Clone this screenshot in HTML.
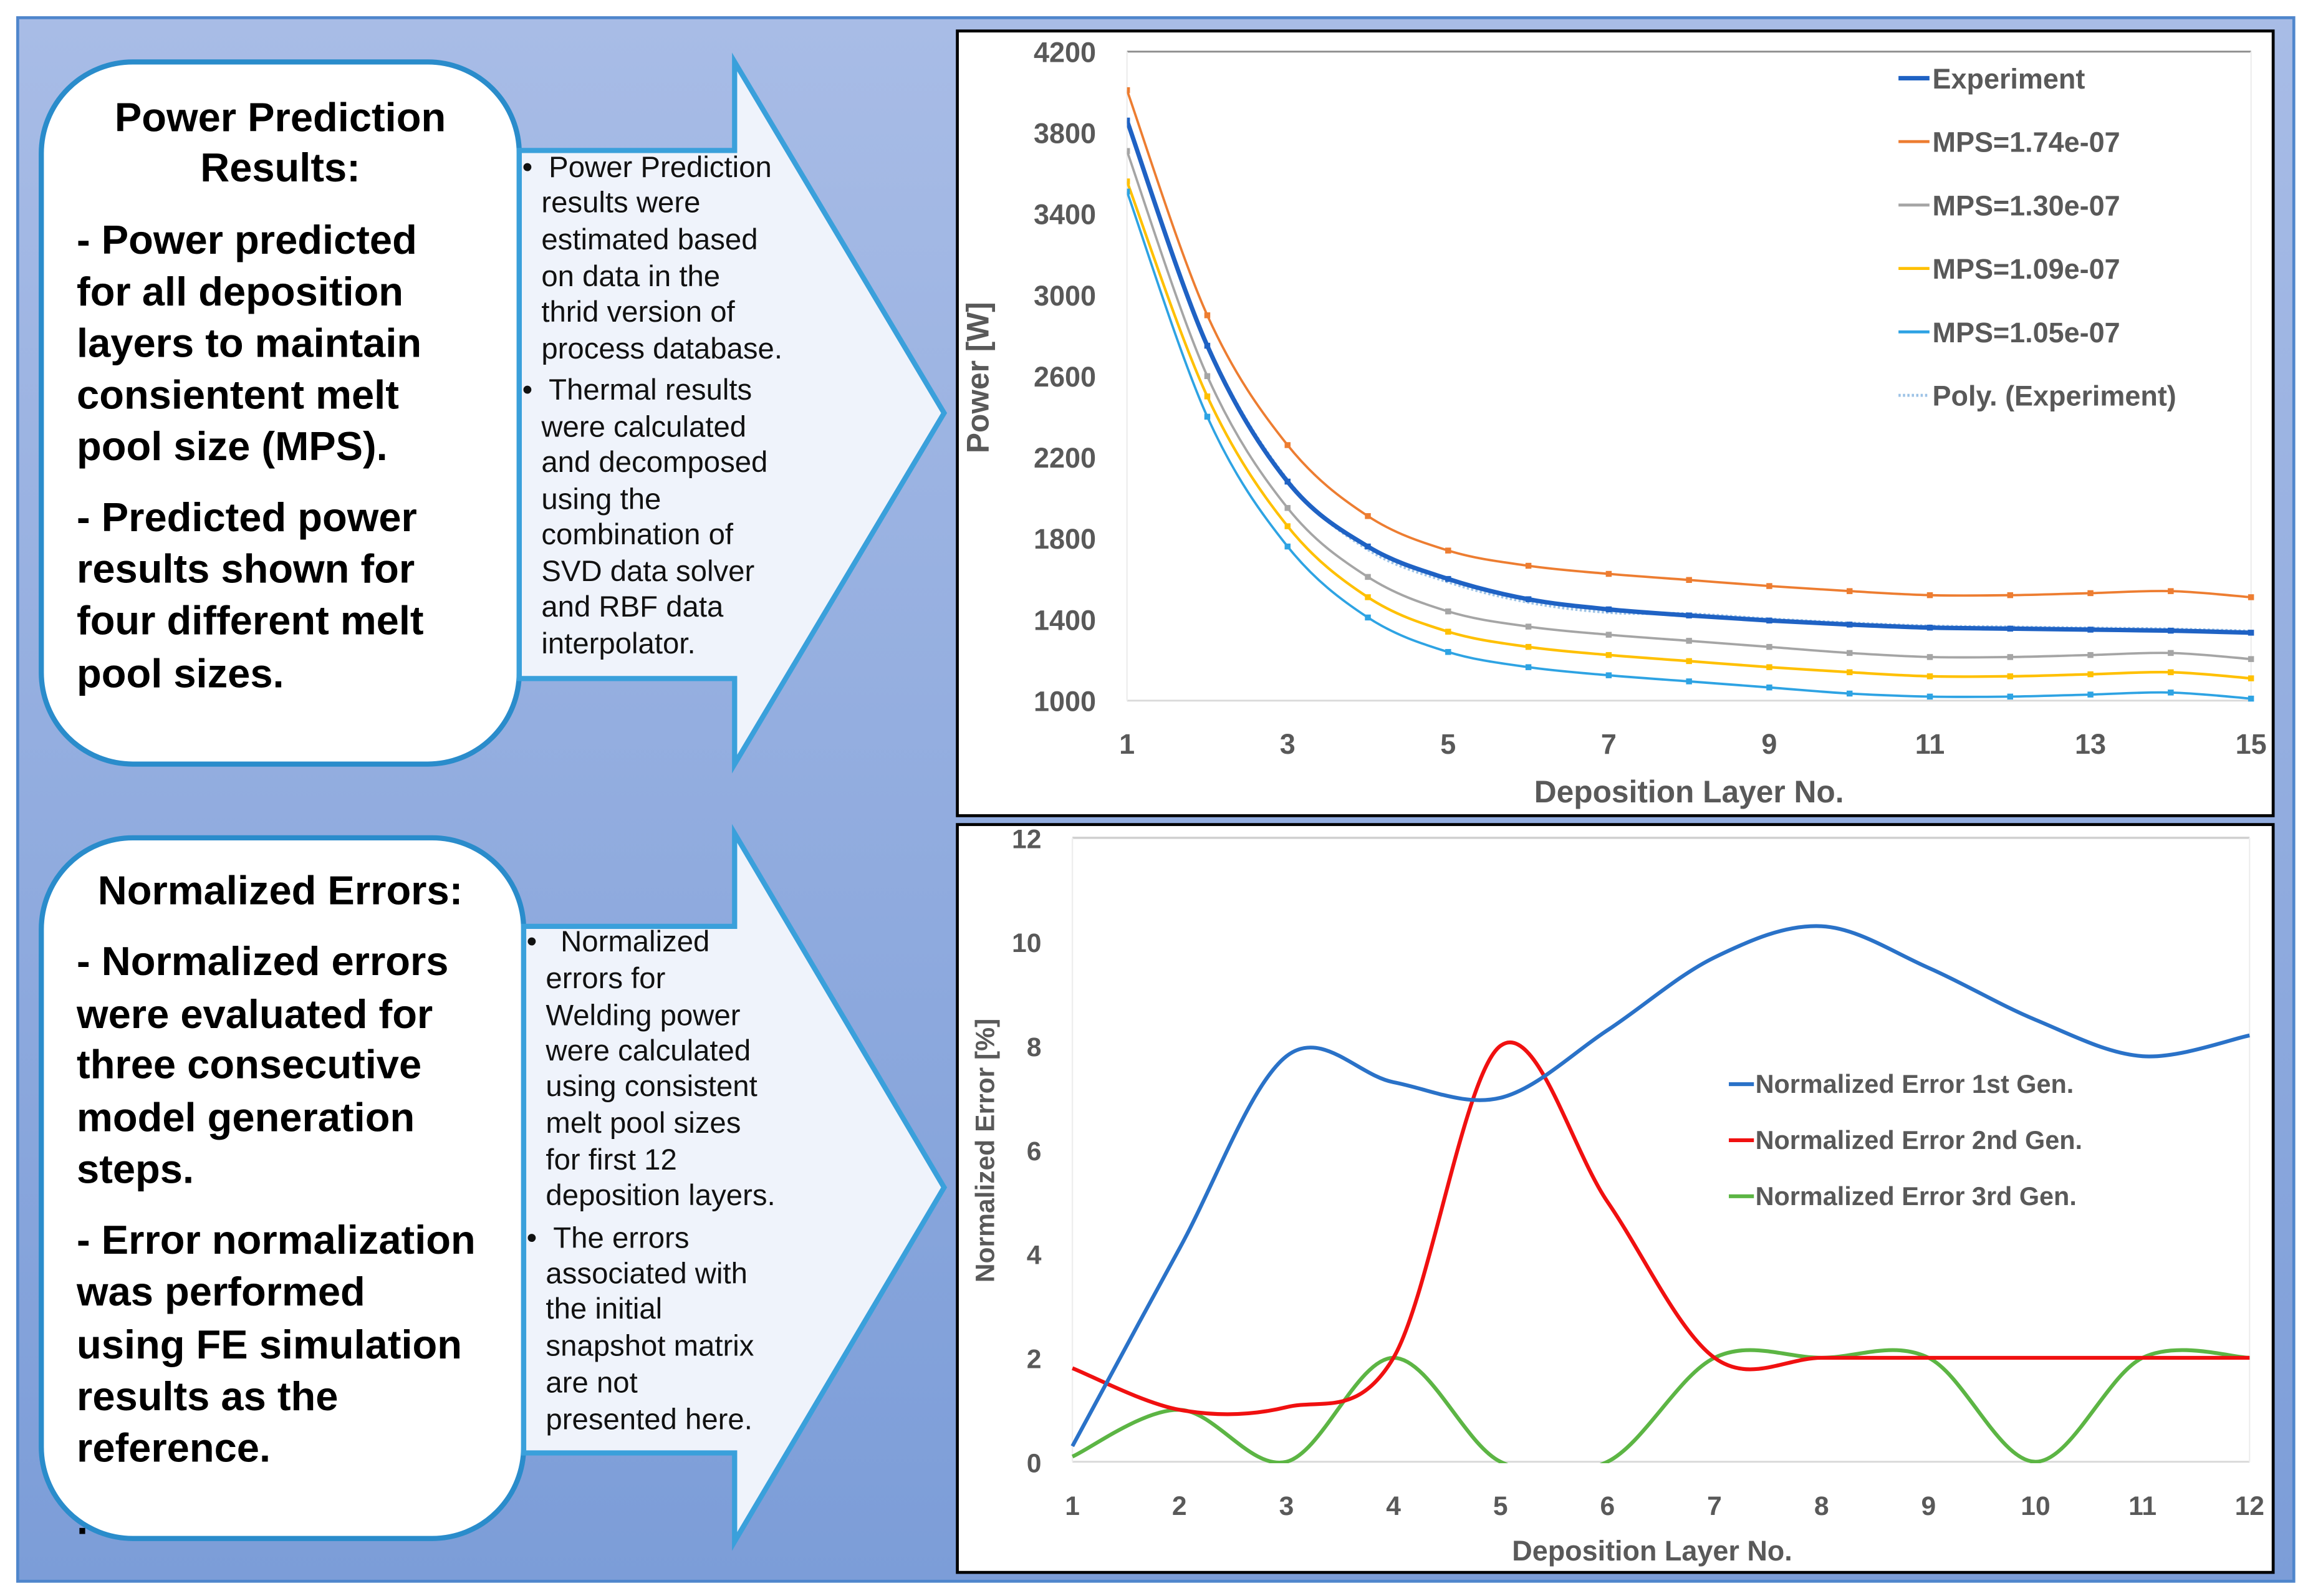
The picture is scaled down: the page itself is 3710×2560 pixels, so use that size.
<!DOCTYPE html>
<html><head><meta charset="utf-8"><style>
html,body{margin:0;padding:0;background:#fff;}
svg{display:block;}
text{font-family:"Liberation Sans",sans-serif;}
</style></head><body>
<svg id="root" width="3710" height="2560" viewBox="0 0 1568 1082" preserveAspectRatio="none" xmlns="http://www.w3.org/2000/svg">
<defs>
<linearGradient id="bg" x1="0" y1="0" x2="0" y2="1">
<stop offset="0" stop-color="#a8bce6"/><stop offset="1" stop-color="#7c9dd8"/>
</linearGradient>
<clipPath id="clipTop"><rect x="764" y="30" width="770" height="450"/></clipPath>
<clipPath id="clipBot"><rect x="720" y="562" width="812" height="430"/></clipPath>
</defs>
<rect x="12" y="12" width="1543" height="1060" fill="url(#bg)" stroke="#4f86cc" stroke-width="2"/>

<rect x="28" y="42" width="324" height="476" rx="62" fill="#fff" stroke="#2a8ccb" stroke-width="3.5"/>
<g font-weight="bold" font-size="27.5" fill="#000">
<text x="190" y="89" text-anchor="middle">Power Prediction</text>
<text x="190" y="123" text-anchor="middle">Results:</text>
<text x="52" y="172">- Power predicted</text>
<text x="52" y="207">for all deposition</text>
<text x="52" y="242">layers to maintain</text>
<text x="52" y="277">consientent melt</text>
<text x="52" y="312">pool size (MPS).</text>
<text x="52" y="360">- Predicted power</text>
<text x="52" y="395">results shown for</text>
<text x="52" y="430">four different melt</text>
<text x="52" y="466">pool sizes.</text>
</g>
<path d="M352,102 H498 V42 L640,280 L498,518 V460 H352 Z" fill="#eff3fb" stroke="#3aa0db" stroke-width="3.5"/>
<g font-size="20" fill="#111">
<text x="354" y="120">•</text><text x="372" y="120">Power Prediction</text>
<text x="367" y="144">results were</text>
<text x="367" y="169">estimated based</text>
<text x="367" y="194">on data in the</text>
<text x="367" y="218">thrid version of</text>
<text x="367" y="243">process database.</text>
<text x="354" y="271">•</text><text x="372" y="271">Thermal results</text>
<text x="367" y="296">were calculated</text>
<text x="367" y="320">and decomposed</text>
<text x="367" y="345">using the</text>
<text x="367" y="369">combination of</text>
<text x="367" y="394">SVD data solver</text>
<text x="367" y="418">and RBF data</text>
<text x="367" y="443">interpolator.</text>
</g>

<rect x="28" y="568" width="327" height="475" rx="62" fill="#fff" stroke="#2a8ccb" stroke-width="3.5"/>
<g font-weight="bold" font-size="27.5" fill="#000">
<text x="190" y="613" text-anchor="middle">Normalized Errors:</text>
<text x="52" y="661">- Normalized errors</text>
<text x="52" y="697">were evaluated for</text>
<text x="52" y="731">three consecutive</text>
<text x="52" y="767">model generation</text>
<text x="52" y="802">steps.</text>
<text x="52" y="850">- Error normalization</text>
<text x="52" y="885">was performed</text>
<text x="52" y="921">using FE simulation</text>
<text x="52" y="956">results as the</text>
<text x="52" y="991">reference.</text>
<text x="52" y="1040">.</text>
</g>
<path d="M355,628 H498 V565 L640,805 L498,1045 V985 H355 Z" fill="#eff3fb" stroke="#3aa0db" stroke-width="3.5"/>
<g font-size="20" fill="#111">
<text x="357" y="645">•</text><text x="380" y="645">Normalized</text>
<text x="370" y="670">errors for</text>
<text x="370" y="695">Welding power</text>
<text x="370" y="719">were calculated</text>
<text x="370" y="743">using consistent</text>
<text x="370" y="768">melt pool sizes</text>
<text x="370" y="793">for first 12</text>
<text x="370" y="817">deposition layers.</text>
<text x="357" y="846">•</text><text x="375" y="846">The errors</text>
<text x="370" y="870">associated with</text>
<text x="370" y="894">the initial</text>
<text x="370" y="919">snapshot matrix</text>
<text x="370" y="944">are not</text>
<text x="370" y="969">presented here.</text>
</g>

<rect x="649" y="21" width="892" height="532" fill="#fff" stroke="#000" stroke-width="2"/>
<rect x="649" y="559" width="892" height="507" fill="#fff" stroke="#000" stroke-width="2"/>
<g id="topChart"></g>
<g id="botChart"></g>
</svg>
<script>
const layersTop = [1,2,3,4,5,6,7,8,9,10,11,12,13,14,15];
const powerExperiment = [3860,2750,2080,1760,1600,1500,1450,1420,1395,1375,1360,1355,1350,1345,1335];
const powerMps174 = [4010,2900,2260,1910,1740,1665,1625,1595,1565,1540,1520,1520,1530,1540,1510];
const powerMps130 = [3710,2600,1950,1610,1440,1365,1325,1295,1265,1235,1215,1215,1225,1235,1205];
const powerMps109 = [3560,2500,1860,1510,1340,1265,1225,1195,1165,1140,1120,1120,1130,1140,1110];
const powerMps105 = [3510,2400,1760,1410,1240,1165,1125,1095,1065,1035,1020,1020,1030,1040,1010];
const powerTicks = [1000,1400,1800,2200,2600,3000,3400,3800,4200];
const layerTicksTop = [1,3,5,7,9,11,13,15];
const topLegend = ["Experiment","MPS=1.74e-07","MPS=1.30e-07","MPS=1.09e-07","MPS=1.05e-07","Poly. (Experiment)"];

const layersBot = [1,2,3,4,5,6,7,8,9,10,11,12];
const error1st = [0.3,4.1,7.8,7.3,7.0,8.3,9.7,10.3,9.5,8.5,7.8,8.2];
const error2nd = [1.8,1.0,1.05,2.0,8.0,5.0,2.0,2.0,2.0,2.0,2.0,2.0];
const error3rd = [0.1,1.0,0.0,2.0,0.0,0.0,2.0,2.0,2.0,0.0,2.0,2.0];
const errorTicks = [0,2,4,6,8,10,12];
const layerTicksBot = [1,2,3,4,5,6,7,8,9,10,11,12];
const botLegend = ["Normalized Error 1st Gen.","Normalized Error 2nd Gen.","Normalized Error 3rd Gen."];

const NS="http://www.w3.org/2000/svg";
function mk(parent,tag,attrs,txt){const e=document.createElementNS(NS,tag);for(const k in attrs)e.setAttribute(k,attrs[k]);if(txt!==undefined)e.textContent=txt;parent.appendChild(e);return e;}
function smooth(pts){let d="M"+pts[0][0]+","+pts[0][1];for(let i=0;i<pts.length-1;i++){const p0=pts[Math.max(0,i-1)],p1=pts[i],p2=pts[i+1],p3=pts[Math.min(pts.length-1,i+2)];const c1=[p1[0]+(p2[0]-p0[0])/6,p1[1]+(p2[1]-p0[1])/6];const c2=[p2[0]-(p3[0]-p1[0])/6,p2[1]-(p3[1]-p1[1])/6];d+=" C"+c1[0]+","+c1[1]+" "+c2[0]+","+c2[1]+" "+p2[0]+","+p2[1];}return d;}

const T=document.getElementById('topChart');
const xT=v=>764+(v-1)*(1526-764)/14;
const yT=v=>475-(v-1000)*(475-35)/3200;
mk(T,'line',{x1:764,y1:yT(4200),x2:1526,y2:yT(4200),stroke:'#8c8c8c','stroke-width':1.2});
mk(T,'line',{x1:764,y1:yT(1000),x2:1526,y2:yT(1000),stroke:'#d9d9d9','stroke-width':1.2});
mk(T,'line',{x1:764,y1:yT(1000),x2:764,y2:yT(4200),stroke:'#eeeeee','stroke-width':1});
mk(T,'line',{x1:1526,y1:yT(1000),x2:1526,y2:yT(4200),stroke:'#eeeeee','stroke-width':1});
for(const t of powerTicks){const e=mk(T,'text',{x:743,y:yT(t)+7,'text-anchor':'end','font-size':19,'font-weight':'bold',fill:'#595959'},t);

}
for(const t of layerTicksTop){const e=mk(T,'text',{x:xT(t),y:511,'text-anchor':'middle','font-size':19,'font-weight':'bold',fill:'#595959'},t);

}
let e1=mk(T,'text',{x:1145,y:544,'text-anchor':'middle','font-size':21,'font-weight':'bold',fill:'#595959'},'Deposition Layer No.');


e1=mk(T,'text',{x:0,y:0,transform:'translate(670,256) rotate(-90)','text-anchor':'middle','font-size':21,'font-weight':'bold',fill:'#595959'},'Power [W]');


const topSeries=[[powerMps174,'#ed7d31',1.6],[powerMps130,'#a5a5a5',1.6],[powerMps109,'#ffc000',1.8],[powerMps105,'#2ea3e3',1.6],[powerExperiment,'#1f62c4',3]];
const gTop=mk(T,'g',{'clip-path':'url(#clipTop)'});
let pe=mk(gTop,'path',{d:smooth(layersTop.map((l,i)=>[xT(l),yT(powerExperiment[i]+(i>=3&&i<=6?-15:8))])),fill:'none',stroke:'#9dc3e6','stroke-width':2,'stroke-dasharray':'1.5 1.5'});


topSeries.forEach(([vals,col,w],si)=>{
 const pts=layersTop.map((l,i)=>[xT(l),yT(vals[i])]);
 const p=mk(gTop,'path',{d:smooth(pts),fill:'none',stroke:col,'stroke-width':w});
 
 
 pts.forEach(q=>{const m=mk(gTop,'rect',{x:q[0]-2,y:q[1]-2,width:4,height:4,fill:col});
 
 });
});
const legCols=['#1f62c4','#ed7d31','#a5a5a5','#ffc000','#2ea3e3','#9dc3e6'];
topLegend.forEach((lab,i)=>{const y=53+i*43;
 const l=mk(T,'line',{x1:1287,y1:y,x2:1308,y2:y,stroke:legCols[i],'stroke-width':i===0?3:2,'stroke-dasharray':i===5?'1.5 1.5':'none'});
 
 
 const t=mk(T,'text',{x:1310,y:y+7,'font-size':19,'font-weight':'bold',fill:'#595959'},lab);
 
 });

const B=document.getElementById('botChart');
const xB=v=>727+(v-1)*(1525-727)/11;
const yB=v=>991-v*(991-568)/12;
mk(B,'line',{x1:727,y1:yB(12),x2:1525,y2:yB(12),stroke:'#cfcfcf','stroke-width':1.5});
mk(B,'line',{x1:727,y1:yB(0),x2:1525,y2:yB(0),stroke:'#d9d9d9','stroke-width':1.2});
mk(B,'line',{x1:727,y1:yB(0),x2:727,y2:yB(12),stroke:'#eeeeee','stroke-width':1});
mk(B,'line',{x1:1525,y1:yB(0),x2:1525,y2:yB(12),stroke:'#eeeeee','stroke-width':1});
for(const t of errorTicks){const e=mk(B,'text',{x:706,y:yB(t)+7,'text-anchor':'end','font-size':18,'font-weight':'bold',fill:'#595959'},t);

}
for(const t of layerTicksBot){const e=mk(B,'text',{x:xB(t),y:1027,'text-anchor':'middle','font-size':18,'font-weight':'bold',fill:'#595959'},t);

}
e1=mk(B,'text',{x:1120,y:1058,'text-anchor':'middle','font-size':19,'font-weight':'bold',fill:'#595959'},'Deposition Layer No.');


e1=mk(B,'text',{x:0,y:0,transform:'translate(674,780) rotate(-90)','text-anchor':'middle','font-size':18,'font-weight':'bold',fill:'#595959'},'Normalized Error [%]');


const gBot=mk(B,'g',{'clip-path':'url(#clipBot)'});
const botSeries=[[error3rd,'#5cb544'],[error2nd,'#f01010'],[error1st,'#2a72c8']];
botSeries.forEach(([vals,col])=>{
 const p=mk(gBot,'path',{d:smooth(layersBot.map((l,i)=>[xB(l),yB(vals[i])])),fill:'none',stroke:col,'stroke-width':2.6});
 
 
});
const botCols=['#2a72c8','#f01010','#5cb544'];
botLegend.forEach((lab,i)=>{const y=735+i*38;
 const l=mk(B,'line',{x1:1172,y1:y,x2:1189,y2:y,stroke:botCols[i],'stroke-width':2.6});
 
 
 const t=mk(B,'text',{x:1190,y:y+6,'font-size':17.5,'font-weight':'bold',fill:'#595959'},lab);
 
 });
</script>
</body></html>
